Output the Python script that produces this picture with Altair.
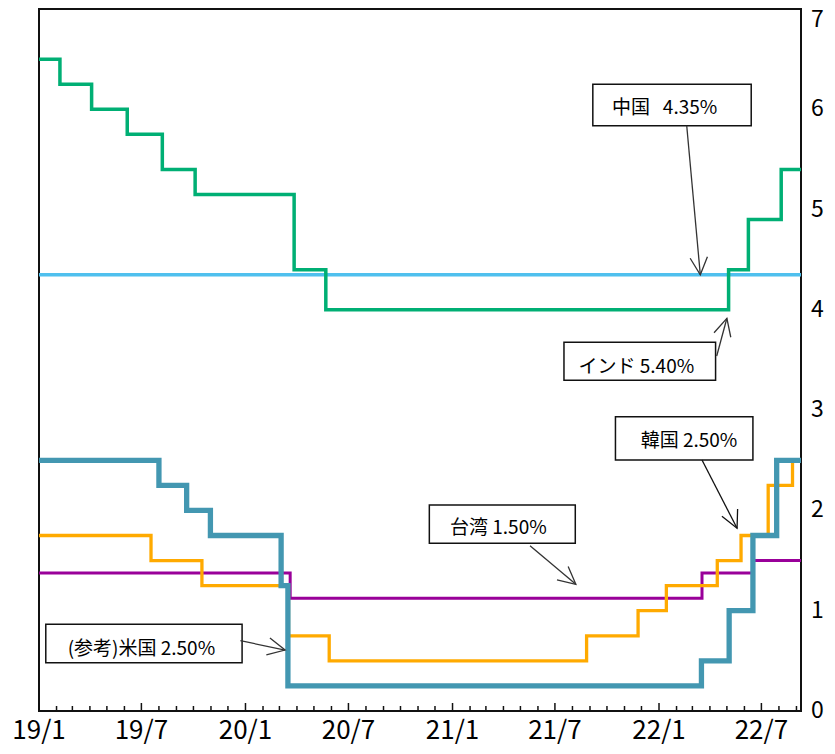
import altair as alt
import pandas as pd

FONT = "Noto Sans CJK JP"

# ---------------- data (policy rates, %) ----------------
china_dates = ["2019-01-01", "2022-09-09"]
china_vals = [4.35, 4.35]

india_dates = ["2019-01-01", "2019-02-07", "2019-04-04", "2019-06-06", "2019-08-07",
               "2019-10-04", "2020-03-27", "2020-05-22", "2022-05-04", "2022-06-08",
               "2022-08-05", "2022-09-09"]
india_vals = [6.50, 6.25, 6.00, 5.75, 5.40, 5.15, 4.40, 4.00, 4.40, 4.90, 5.40, 5.40]

taiwan_dates = ["2019-01-01", "2020-03-20", "2022-03-18", "2022-06-17", "2022-09-09"]
taiwan_vals = [1.375, 1.125, 1.375, 1.50, 1.50]

korea_dates = ["2019-01-01", "2019-07-18", "2019-10-16", "2020-03-17", "2020-05-28",
               "2021-08-26", "2021-11-25", "2022-01-14", "2022-04-14", "2022-05-26",
               "2022-07-13", "2022-08-25", "2022-09-09"]
korea_vals = [1.75, 1.50, 1.25, 0.75, 0.50, 0.75, 1.00, 1.25, 1.50, 1.75, 2.25, 2.50, 2.50]

us_dates = ["2019-01-01", "2019-08-01", "2019-09-19", "2019-10-31", "2020-03-04",
            "2020-03-16", "2022-03-17", "2022-05-05", "2022-06-16", "2022-07-28",
            "2022-09-09"]
us_vals = [2.50, 2.25, 2.00, 1.75, 1.25, 0.25, 0.50, 1.00, 1.75, 2.50, 2.50]

xlabel_text = ["19/1", "19/7", "20/1", "20/7", "21/1", "21/7", "22/1", "22/7"]
xlabel_dates = ["2019-01-01", "2019-07-01", "2020-01-01", "2020-07-01",
                "2021-01-01", "2021-07-01", "2022-01-01", "2022-07-01"]

ylabel_values = [0, 1, 2, 3, 4, 5, 6, 7]

# ---------------- styles ----------------
series = [
    ("中国", china_dates, china_vals, "#4FC0EE", 3.3),
    ("インド", india_dates, india_vals, "#00AF74", 3.5),
    ("台湾", taiwan_dates, taiwan_vals, "#990099", 3.0),
    ("韓国", korea_dates, korea_vals, "#FFAA00", 3.3),
    ("米国", us_dates, us_vals, "#4397B1", 5.3),
]

# annotation layout (box corners, text centre, arrow start/tip in data units)
annotations = [
    dict(label="中国\u00a0\u00a0 4.35%", bx1="2021-09-06", bx2="2022-06-13", by1=6.249, by2=5.836,
         tx="2022-01-11", ty=6.013, ax1="2022-02-19", ay1=5.836, ax2="2022-03-15", ay2=4.35, ang=175, col="#333333"),
    dict(label="インド 5.40%", bx1="2021-07-17", bx2="2022-04-11", by1=3.676, by2=3.297,
         tx="2021-11-22", ty=3.433, ax1="2022-04-13", ay1=3.540, ax2="2022-05-01", ay2=3.916, ang=15, col="#333333"),
    dict(label="韓国 2.50%", bx1="2021-10-16", bx2="2022-06-16", by1=2.934, by2=2.503,
         tx="2022-02-23", ty=2.695, ax1="2022-03-18", ay1=2.503, ax2="2022-05-19", ay2=1.822, ang=155, col="#111111"),
    dict(label="台湾 1.50%", bx1="2020-11-21", bx2="2021-08-06", by1=2.054, by2=1.672,
         tx="2021-03-23", ty=1.822, ax1="2021-05-18", ay1=1.648, ax2="2021-08-07", ay2=1.263, ang=130, col="#333333"),
    dict(label="(参考)米国 2.50%", bx1="2019-01-13", bx2="2019-12-26", by1=0.864, by2=0.482,
         tx="2019-07-01", ty=0.615, ax1="2019-12-23", ay1=0.701, ax2="2020-03-11", ay2=0.608, ang=102, col="#333333"),
]

def ts(d):
    return d + "T00:00:00"

W, H = 762, 702

xscale = alt.Scale(domain=[alt.DateTime(year=2019, month=1, date=1),
                           alt.DateTime(year=2022, month=9, date=9)])
yscale = alt.Scale(domain=[0, 7], nice=False, zero=False)

def X(f):
    return alt.X(f, type="temporal", scale=xscale, axis=None)

def Y(f):
    return alt.Y(f, type="quantitative", scale=yscale, axis=None)

layers = []
for name, ds, vs, col, w in series:
    d = pd.DataFrame({"date": [ts(x) for x in ds], "rate": vs})
    layers.append(
        alt.Chart(d).mark_line(interpolate="step-after", color=col, strokeWidth=w,
                               strokeJoin="miter")
        .encode(x=X("date"), y=Y("rate"))
    )

# month ticks along the bottom (pointing inward)
tick_months = [f"{y}-{m:02d}-01" for y in range(2019, 2023) for m in range(1, 13)
               if (y, m) <= (2022, 9)]
tdf = pd.DataFrame({"date": [ts(t) for t in tick_months],
                    "major": [t[5:7] in ("01", "07") for t in tick_months]})
minor = alt.Chart(tdf).transform_filter("!datum.major").mark_rule(color="#111", strokeWidth=1.5).encode(
    x=X("date"), y=alt.value(H), y2=alt.value(H - 5))
major = alt.Chart(tdf).transform_filter("datum.major").mark_rule(color="#111", strokeWidth=1.5).encode(
    x=X("date"), y=alt.value(H), y2=alt.value(H - 8))

xl = pd.DataFrame({"date": [ts(d) for d in xlabel_dates], "label": xlabel_text})
xlabels = alt.Chart(xl).mark_text(font=FONT, fontSize=26, color="#000", baseline="middle",
                                  align="center").encode(
    x=X("date"), y=alt.value(H + 20), text="label:N")

# right-hand value labels
yl = pd.DataFrame({"v": ylabel_values, "label": [str(v) for v in ylabel_values]})
ylabels = alt.Chart(yl).transform_filter("datum.v < 7").mark_text(
    font=FONT, fontSize=23, color="#000", baseline="middle", align="left").encode(
    x=alt.value(W + 10), y=Y("v"), text="label:N")
ylabel_top = alt.Chart(yl).transform_filter("datum.v == 7").mark_text(
    font=FONT, fontSize=23, color="#000", baseline="top", align="left").encode(
    x=alt.value(W + 10), y=Y("v"), text="label:N")

adf = pd.DataFrame(annotations)
for c in ["bx1", "bx2", "tx", "ax1", "ax2"]:
    adf[c] = adf[c].map(ts)

boxes = alt.Chart(adf).mark_rect(fill="white", stroke="#111", strokeWidth=1.5).encode(
    x=X("bx1"), x2="bx2", y=Y("by1"), y2="by2")
texts = alt.Chart(adf).mark_text(font=FONT, fontSize=19, color="#000", baseline="middle",
                                 align="center").encode(
    x=X("tx"), y=Y("ty"), text="label:N")
shafts = alt.Chart(adf).mark_rule(strokeWidth=1.3).encode(
    x=X("ax1"), x2="ax2", y=Y("ay1"), y2="ay2",
    color=alt.Color("col:N", scale=None))
heads = alt.Chart(adf).mark_point(shape="M -0.5 1 L 0 0 L 0.5 1", size=1200, filled=False,
                                  strokeWidth=1.3, opacity=1).encode(
    x=X("ax2"), y=Y("ay2"), angle=alt.Angle("ang:Q", scale=None),
    color=alt.Color("col:N", scale=None))

chart = alt.layer(*layers, minor, major, xlabels, ylabels, ylabel_top,
                  boxes, texts, shafts, heads).properties(
    width=W, height=H,
    padding={"left": 31, "top": 1, "right": 26, "bottom": 34},
    autosize="none",
).configure(font=FONT).configure_view(stroke="#111111", strokeWidth=2)

chart.save("out.html", embed_options={"renderer": "svg", "actions": False})
